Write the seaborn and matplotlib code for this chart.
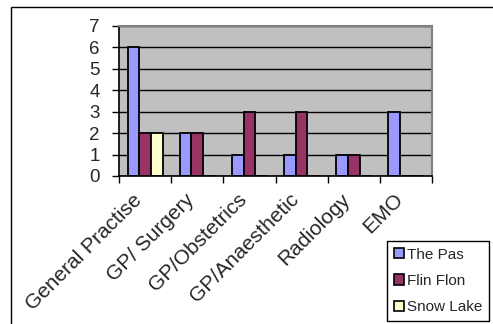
import matplotlib
matplotlib.use("Agg")
import matplotlib.pyplot as plt
import matplotlib.transforms as mtransforms
from matplotlib.patches import Rectangle
import seaborn as sns
import pandas as pd

categories = ["General Practise", "GP/ Surgery", "GP/Obstetrics", "GP/Anaesthetic", "Radiology", "EMO"]
the_pas = [6, 2, 1, 1, 1, 3]
flin_flon = [2, 2, 3, 3, 1, 0]
snow_lake = [2, 0, 0, 0, 0, 0]
series_names = ["The Pas", "Flin Flon", "Snow Lake"]
colors = ["#9999FF", "#993366", "#FFFFCC"]
y_ticks = [0, 1, 2, 3, 4, 5, 6, 7]

rows = []
for name, vals in zip(series_names, [the_pas, flin_flon, snow_lake]):
    for c, v in zip(categories, vals):
        rows.append({"category": c, "site": name, "value": v})
df = pd.DataFrame(rows)

sns.set_style("white")
plt.rcParams["font.family"] = ["Liberation Sans", "DejaVu Sans"]

W, H = 493, 324
fig = plt.figure(figsize=(W / 100, H / 100), dpi=100)
ax = fig.add_axes([119 / W, (H - 176) / H, 313 / W, 150 / H])

sns.barplot(data=df, x="category", y="value", hue="site", hue_order=series_names,
            order=categories, palette=colors, saturation=1, width=0.67,
            edgecolor="black", linewidth=1.3, ax=ax, errorbar=None)

ax.set_facecolor("#C0C0C0")
ax.set_xlim(-0.5, len(categories) - 0.5)
ax.set_ylim(0, 7)
ax.set_yticks(y_ticks)
ax.set_yticklabels([str(t) for t in y_ticks], fontsize=13.5)
ax.yaxis.grid(True, color="black", linewidth=1)
ax.set_axisbelow(True)
ax.set_xlabel("")
ax.set_ylabel("")

for s in ["left", "bottom"]:
    ax.spines[s].set_color("black")
    ax.spines[s].set_linewidth(1.2)
for s in ["top", "right"]:
    ax.spines[s].set_visible(True)
    ax.spines[s].set_color("#808080")
    ax.spines[s].set_linewidth(1.5)

ax.tick_params(axis="y", direction="out", length=5, width=1, color="black", pad=9, left=True)
ax.set_xticks([i - 0.5 for i in range(len(categories) + 1)], minor=True)
ax.tick_params(axis="x", which="minor", direction="out", length=5, width=1, color="black", bottom=True)
ax.set_xticks(range(len(categories)))
ax.set_xticklabels(categories, fontsize=15, rotation=45, ha="right", va="center",
                   rotation_mode="anchor")
ax.tick_params(axis="x", which="major", length=0, pad=15)
offset = mtransforms.ScaledTranslation(-6 / 100, 0, fig.dpi_scale_trans)
for lab in ax.get_xticklabels():
    lab.set_transform(lab.get_transform() + offset)

handles, labels = ax.get_legend_handles_labels()
if ax.get_legend() is not None:
    ax.get_legend().remove()
leg = fig.legend(handles, labels, loc="lower left", bbox_to_anchor=(387 / W, 3 / H),
                 bbox_transform=fig.transFigure, fontsize=11, frameon=True,
                 fancybox=False, framealpha=1, edgecolor="black", borderpad=0.45,
                 handlelength=0.65, handleheight=0.65, handletextpad=0.2,
                 labelspacing=0.8, borderaxespad=0)
leg.get_frame().set_linewidth(1)
for h in leg.legend_handles:
    h.set_edgecolor("black")
    h.set_linewidth(1.2)

fig.add_artist(Rectangle((11 / W, -0.1), 1.2, (H - 7) / H + 0.1, transform=fig.transFigure,
                         fill=False, edgecolor="black", linewidth=1))

fig.savefig("out.png", dpi=100)
